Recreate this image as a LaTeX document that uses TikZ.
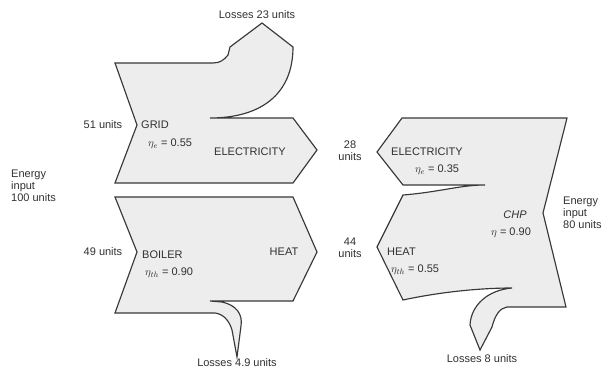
\documentclass[tikz,border=0pt]{standalone}
\usepackage{fontspec}
\setmainfont{Liberation Sans}
\definecolor{flowfill}{HTML}{EDEDED}
\definecolor{flowline}{HTML}{383838}
\definecolor{txt}{HTML}{303030}
\begin{document}
\begin{tikzpicture}[x=1pt,y=-1pt,
  flow/.style={fill=flowfill,draw=flowline,line width=1.15pt,line join=miter},
  lbl/.style={inner sep=0pt,text=txt,font=\fontsize{11}{12}\selectfont},
  lbll/.style={lbl,anchor=west},
  multi/.style={lbl,align=center},
  multil/.style={lbl,align=left,anchor=west}]
\useasboundingbox (0,0) rectangle (605,369);
% GRID shape
\path[flow] (115,63) -- (137,125) -- (115,183) -- (293,183) -- (317,150) -- (293,118) -- (210,118)
  .. controls (260,118) and (293,95) .. (293,47) -- (262,23) -- (230,47) -- (228,55)
  .. controls (224,60) and (220,63) .. (213,63) -- cycle;
% BOILER shape
\path[flow] (115,197) -- (293,197) -- (317,252) -- (293,301) -- (210,301) -- (222,302)
  .. controls (236,305) and (243,314) .. (241,326) -- (237,357) -- (232,330)
  .. controls (229,320) and (223,314) .. (215,313) -- (115,313) -- (137,252) -- cycle;
% CHP shape
\path[flow] (402,118) -- (567,118) -- (543,213) -- (566,307) -- (507,307)
  .. controls (500,308) and (495,315) .. (492,327) -- (480,350) -- (470,325)
  .. controls (471,305) and (488,290) .. (512,288)
  .. controls (480,288) and (440,292) .. (403,300) -- (377,247) -- (403,195)
  .. controls (440,192) and (460,185) .. (485,185) -- (403,185) -- (377,152) -- cycle;
% labels left
\node[lbl] (l23) at (257,15) {Losses 23 units};
\node[lbl] (u51) at (103,125) {51 units};
\node[lbll] (grid) at (141,125) {GRID};
\node[lbll] (etae1) at (148,144) {$\eta_e$ = 0.55};
\node[lbl] (elec1) at (250,152) {ELECTRICITY};
\node[multil] (ein100) at (11,186) {Energy\\input\\100 units};
\node[lbl] (u49) at (103,252) {49 units};
\node[lbll] (boiler) at (142,255) {BOILER};
\node[lbll] (etath1) at (145,273) {$\eta_{th}$ = 0.90};
\node[lbl] (heat1) at (284,252) {HEAT};
\node[lbl] (l49) at (237,363) {Losses 4.9 units};
% labels middle/right
\node[multi] (u28) at (350,151) {28\\units};
\node[multi] (u44) at (350,248) {44\\units};
\node[lbl] (elec2) at (427,152) {ELECTRICITY};
\node[lbll] (etae2) at (415,170) {$\eta_e$ = 0.35};
\node[lbl] (chp) at (515,215) {\itshape CHP};
\node[lbl] (eta) at (511,233) {$\eta$ = 0.90};
\node[lbll] (heat2) at (387,252) {HEAT};
\node[lbll] (etath2) at (391,270) {$\eta_{th}$ = 0.55};
\node[multil] (ein80) at (563,213) {Energy\\input\\80 units};
\node[lbl] (l8) at (482,359) {Losses 8 units};
\end{tikzpicture}
\end{document}
